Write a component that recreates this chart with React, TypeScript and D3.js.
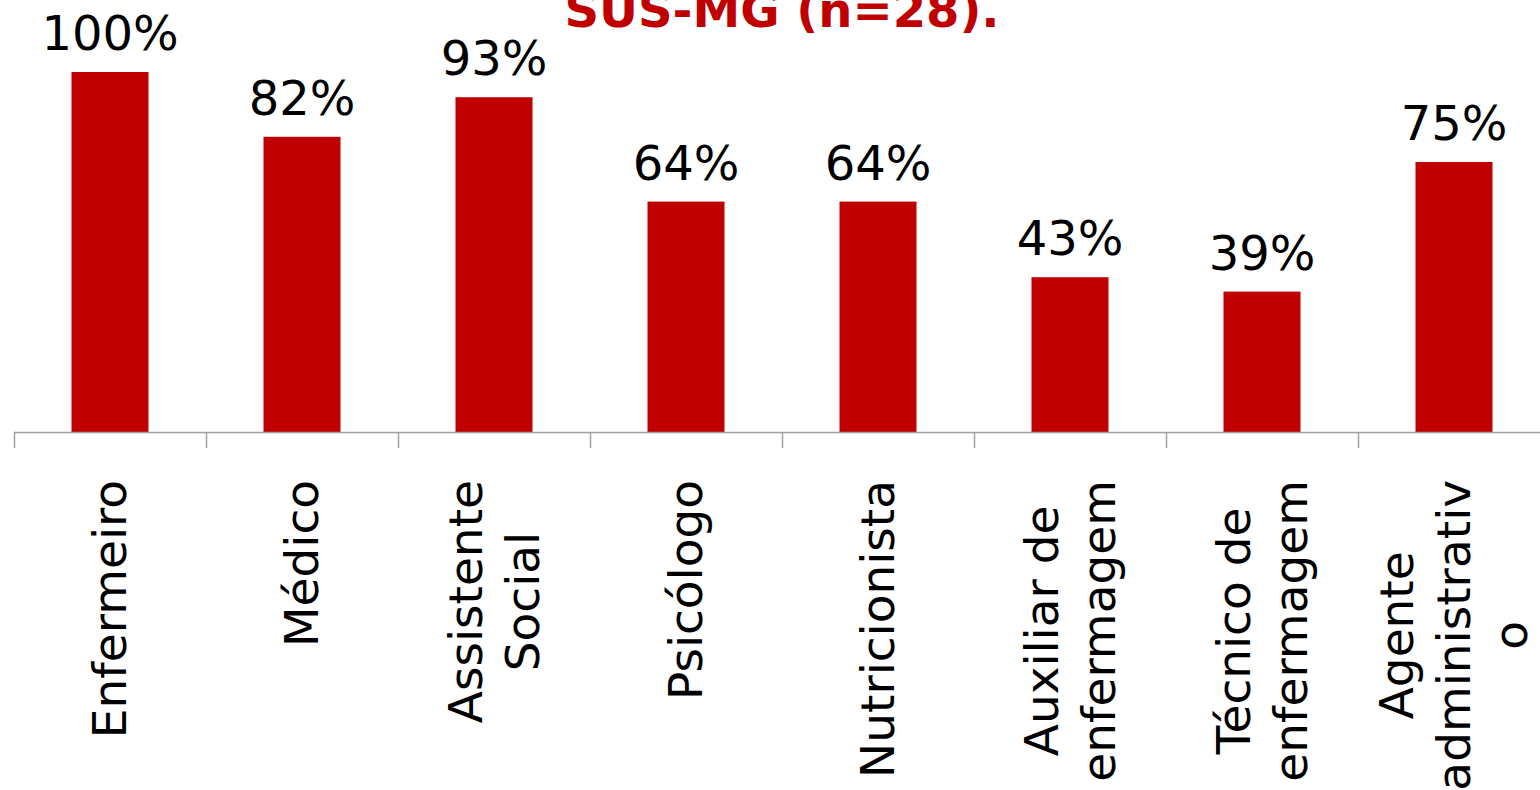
import React, { useEffect, useRef } from "react";
import * as d3 from "d3";

const categories: string[][] = [
  ["Enfermeiro"],
  ["Médico"],
  ["Assistente", "Social"],
  ["Psicólogo"],
  ["Nutricionista"],
  ["Auxiliar de", "enfermagem"],
  ["Técnico de", "enfermagem"],
  ["Agente", "administrativ", "o"],
];
const values: number[] = [1.0, 0.82, 0.93, 0.64, 0.64, 0.43, 0.39, 0.75];
const valueLabels: string[] = ["100%", "82%", "93%", "64%", "64%", "43%", "39%", "75%"];
const titleText = "SUS-MG (n=28).";

const W = 1540;
const H = 790;
const FONT = "'DejaVu Sans', Verdana, sans-serif";

export default function App() {
  const ref = useRef<SVGSVGElement | null>(null);

  useEffect(() => {
    const svg = d3.select(ref.current);
    svg.selectAll("*").remove();

    const keys = categories.map((c) => c.join(" "));
    const xb = d3.scaleBand<string>().domain(keys).range([14, 14 + 192 * 8]).padding(0);
    const y = d3.scaleLinear().domain([0, 1]).range([432, 72]);

    svg
      .append("text")
      .attr("x", 782)
      .attr("y", 27)
      .attr("text-anchor", "middle")
      .attr("font-family", FONT)
      .attr("font-weight", "bold")
      .attr("font-size", 48)
      .attr("fill", "#C00000")
      .text(titleText);

    svg
      .append("g")
      .selectAll("rect")
      .data(values)
      .join("rect")
      .attr("x", (_, i) => xb(keys[i])! + (xb.bandwidth() - 77) / 2)
      .attr("width", 77)
      .attr("y", (d) => y(d))
      .attr("height", (d) => y(0) - y(d))
      .attr("fill", "#C00000");

    svg
      .append("g")
      .selectAll("text")
      .data(values)
      .join("text")
      .attr("x", (_, i) => xb(keys[i])! + xb.bandwidth() / 2)
      .attr("y", (d) => y(d) - 22)
      .attr("text-anchor", "middle")
      .attr("font-family", FONT)
      .attr("font-size", 48)
      .attr("fill", "#000")
      .text((_, i) => valueLabels[i]);

    // axis
    const ax = svg.append("g").attr("stroke", "#A0A0A0").attr("stroke-width", 1.5);
    ax.append("line").attr("x1", 14).attr("x2", W + 20).attr("y1", 432.5).attr("y2", 432.5);
    keys.forEach((k) => {
      const tx = Math.round(xb(k)!) + 0.5;
      ax.append("line").attr("x1", tx).attr("x2", tx).attr("y1", 432).attr("y2", 448);
    });

    // category labels
    const lh = 57;
    categories.forEach((lines, i) => {
      const cx = xb(keys[i])! + xb.bandwidth() / 2;
      const g = svg.append("g");
      const texts = lines.map((l, j) =>
        g
          .append("text")
          .attr("x", 0)
          .attr("y", (j - (lines.length - 1) / 2) * lh)
          .attr("dy", "0.35em")
          .attr("text-anchor", "middle")
          .attr("font-family", FONT)
          .attr("font-size", 47)
          .attr("fill", "#000")
          .text(l)
      );
      const maxW = d3.max(texts, (t) => (t.node() as SVGTextElement).getComputedTextLength()) || 0;
      g.attr("transform", `translate(${cx},${480 + maxW / 2}) rotate(-90)`);
    });
  }, []);

  return (
    <svg ref={ref} width={W} height={H} style={{ position: "absolute", left: 0, top: 0, background: "#fff" }} />
  );
}
